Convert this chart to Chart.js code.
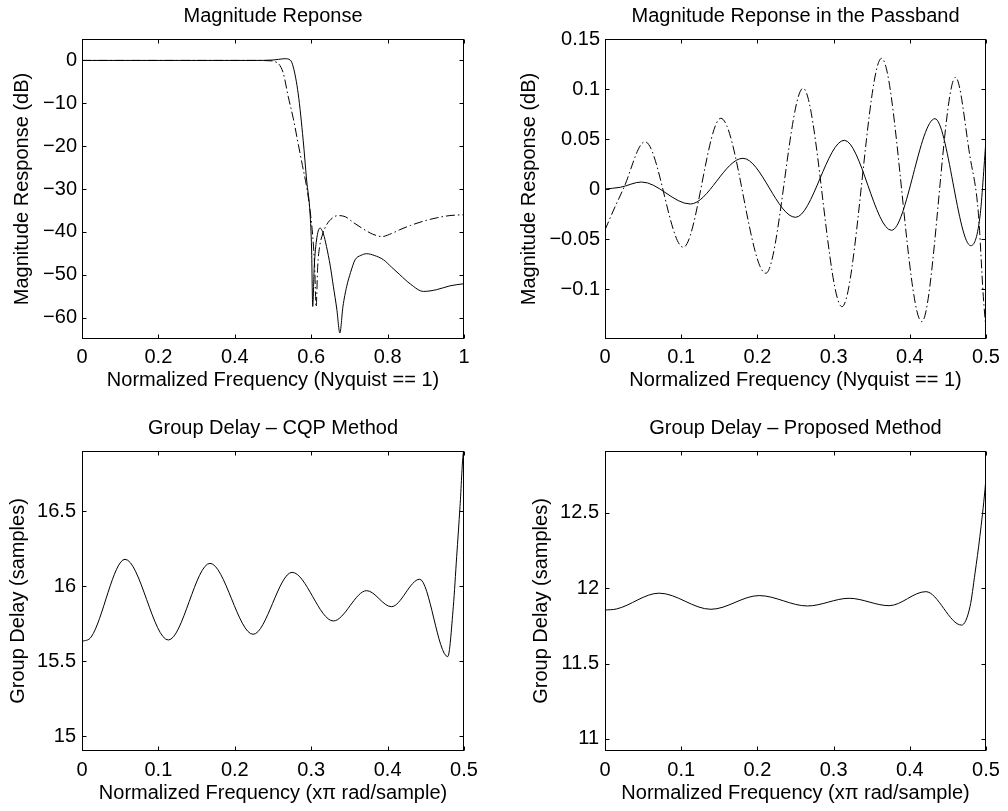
<!DOCTYPE html>
<html>
<head>
<meta charset="utf-8">
<script src="https://cdn.jsdelivr.net/npm/chart.js@4.4.1/dist/chart.umd.min.js"></script>
<style>
html,body{margin:0;padding:0;background:#fff;}
#fig{position:relative;width:1008px;height:811px;background:#fff;overflow:hidden;}
.cell{position:absolute;}
canvas{display:block;}
</style>
</head>
<body>
<div id="fig">
  <div class="cell" style="left:0;top:0;"><canvas id="c1" width="504" height="400"></canvas></div>
  <div class="cell" style="left:504px;top:0;"><canvas id="c2" width="504" height="400"></canvas></div>
  <div class="cell" style="left:0;top:400px;"><canvas id="c3" width="504" height="411"></canvas></div>
  <div class="cell" style="left:504px;top:400px;"><canvas id="c4" width="504" height="411"></canvas></div>
</div>
<script>
// ---------- Data ----------
// Magnitude response, full band (x: normalized frequency, y: dB)
const magSolidX = [0, 0.25, 0.45, 0.5, 0.515, 0.531, 0.545, 0.553, 0.566, 0.579, 0.588, 0.597, 0.601, 0.604, 0.608, 0.614, 0.623, 0.632, 0.640, 0.650, 0.658, 0.667, 0.675, 0.683, 0.693, 0.703, 0.715, 0.73, 0.745, 0.765, 0.789, 0.81, 0.832, 0.86, 0.894, 0.928, 0.963, 1.0];
const magSolidY = [0, 0, 0, 0.1, 0.25, 0.4, 0.1, -1.5, -7.8, -18.6, -27.9, -35.7, -44, -57.4, -48, -41.9, -39.1, -40.5, -43.4, -48, -52.7, -58, -63.6, -57.5, -52.7, -49.5, -46.5, -45.5, -45.1, -45.5, -46.5, -48.2, -50, -52.2, -53.9, -53.5, -52.6, -52.1];
const magDashX = [0, 0.25, 0.45, 0.495, 0.505, 0.515, 0.527, 0.54, 0.553, 0.565, 0.577, 0.588, 0.597, 0.604, 0.609, 0.613, 0.617, 0.622, 0.63, 0.64, 0.655, 0.67, 0.69, 0.71, 0.736, 0.76, 0.785, 0.81, 0.832, 0.86, 0.894, 0.93, 0.963, 1.0];
const magDashY = [0, 0, 0, -0.1, -0.3, -0.8, -3, -8.5, -13.5, -19, -24.5, -29.5, -35, -41, -48, -57.5, -48, -43.5, -40.5, -38.4, -36.8, -36.2, -36.5, -37.8, -39.3, -40.5, -41.1, -40.4, -39.5, -38.5, -37.5, -36.7, -36.2, -36];

// Magnitude response in the passband (ripple extrema)
const pbSolidX = [0, 0.02, 0.048, 0.112, 0.181, 0.25, 0.314, 0.376, 0.433, 0.48, 0.492, 0.5];
const pbSolidY = [0, 0.0017, 0.007, -0.015, 0.0307, -0.0283, 0.0487, -0.0413, 0.0703, -0.0567, -0.028, 0.049];
const pbDashX = [0, 0.0113, 0.024, 0.0525, 0.1027, 0.152, 0.211, 0.26, 0.311, 0.363, 0.4157, 0.46, 0.479, 0.49, 0.4965, 0.5];
const pbDashY = [-0.041, -0.021, 0, 0.0473, -0.0583, 0.0707, -0.0843, 0.1007, -0.1177, 0.1307, -0.1327, 0.1117, 0.0323, -0.0243, -0.1077, -0.141];

// Group delay - CQP method
const gdCqpX = [0, 0.012, 0.0563, 0.113, 0.1675, 0.224, 0.275, 0.329, 0.3726, 0.405, 0.442, 0.4787, 0.486, 0.4904, 0.4948, 0.499, 0.5];
const gdCqpY = [15.63, 15.66, 16.178, 15.64, 16.151, 15.678, 16.091, 15.767, 15.969, 15.862, 16.045, 15.529, 15.862, 16.195, 16.53, 16.885, 16.9];

// Group delay - proposed method
const gdPropX = [0, 0.015, 0.0712, 0.139, 0.2023, 0.2657, 0.3204, 0.3729, 0.421, 0.468, 0.479, 0.4856, 0.492, 0.4987, 0.5];
const gdPropY = [11.855, 11.862, 11.967, 11.86, 11.951, 11.882, 11.933, 11.884, 11.977, 11.755, 11.877, 12.1, 12.344, 12.655, 12.733];

// Ticks
const magXTicks = [0, 0.2, 0.4, 0.6, 0.8, 1];
const magXLabels = ['0', '0.2', '0.4', '0.6', '0.8', '1'];
const magYTicks = [-60, -50, -40, -30, -20, -10, 0];
const magYLabels = ['\u221260', '\u221250', '\u221240', '\u221230', '\u221220', '\u221210', '0'];
const halfXTicks = [0, 0.1, 0.2, 0.3, 0.4, 0.5];
const halfXLabels = ['0', '0.1', '0.2', '0.3', '0.4', '0.5'];
const pbYTicks = [-0.1, -0.05, 0, 0.05, 0.1, 0.15];
const pbYLabels = ['\u22120.1', '\u22120.05', '0', '0.05', '0.1', '0.15'];
const cqpYTicks = [15, 15.5, 16, 16.5];
const cqpYLabels = ['15', '15.5', '16', '16.5'];
const propYTicks = [11, 11.5, 12, 12.5];
const propYLabels = ['11', '11.5', '12', '12.5'];

// ---------- Rendering ----------
const FONT = "'Liberation Sans', Arial, Helvetica, sans-serif";
Chart.defaults.font.family = FONT;
Chart.defaults.font.size = 20;
Chart.defaults.color = '#000';

const framePlugin = {
  id: 'frame',
  afterDatasetsDraw(chart) {
    const {ctx, chartArea: a, scales: {x, y}} = chart;
    const L = Math.round(a.left) + 0.5, R = Math.round(a.right) - 0.5;
    const T = Math.round(a.top) + 0.5, B = Math.round(a.bottom) - 0.5;
    const tl = 4;
    ctx.save();
    ctx.strokeStyle = '#000';
    ctx.lineWidth = 1;
    ctx.beginPath();
    x.ticks.forEach(t => {
      const p = Math.round(x.getPixelForValue(t.value)) + 0.5;
      ctx.moveTo(p, B); ctx.lineTo(p, B - tl);
      ctx.moveTo(p, T); ctx.lineTo(p, T + tl);
    });
    y.ticks.forEach(t => {
      const p = Math.round(y.getPixelForValue(t.value)) + 0.5;
      ctx.moveTo(L, p); ctx.lineTo(L + tl, p);
      ctx.moveTo(R, p); ctx.lineTo(R - tl, p);
    });
    ctx.stroke();
    ctx.strokeRect(L, T, R - L, B - T);
    ctx.restore();
  }
};

function series(xs, ys, dashed) {
  return {
    data: xs.map((v, i) => ({x: v, y: ys[i]})),
    borderColor: '#000',
    borderWidth: 1,
    pointRadius: 0,
    fill: false,
    cubicInterpolationMode: 'monotone',
    borderDash: dashed ? [9, 3, 1.5, 3] : []
  };
}

function makeChart(id, o) {
  new Chart(document.getElementById(id), {
    type: 'line',
    data: {datasets: o.datasets},
    plugins: [framePlugin],
    options: {
      responsive: false,
      animation: false,
      events: [],
      layout: {padding: {left: 0, right: o.rightPad, top: 0, bottom: 0}},
      plugins: {
        legend: {display: false},
        tooltip: {enabled: false},
        title: {
          display: true, text: o.title, fullSize: false, color: '#000',
          font: {size: 20, weight: 'normal', family: FONT},
          padding: {top: o.titleTop, bottom: o.titleBottom}
        }
      },
      scales: {
        x: {
          type: 'linear', min: o.xMin, max: o.xMax,
          grid: {display: false, drawTicks: false},
          border: {display: false},
          afterBuildTicks: s => { s.ticks = o.xTicks.map(v => ({value: v})); },
          afterFit: s => { s.height = o.xAxisH; },
          ticks: {autoSkip: false, maxRotation: 0, minRotation: 0, padding: o.xTickPad, color: '#000',
                  font: {size: 20}, callback: (v, i) => o.xLabels[i]},
          title: {display: true, text: o.xTitle, color: '#000', font: {size: 20},
                  padding: {top: 0, bottom: o.xTitleBottom}}
        },
        y: {
          type: 'linear', min: o.yMin, max: o.yMax,
          grid: {display: false, drawTicks: false},
          border: {display: false},
          afterBuildTicks: s => { s.ticks = o.yTicks.map(v => ({value: v})); },
          afterFit: s => { s.width = o.yAxisW; },
          ticks: {autoSkip: false, padding: o.yTickPad, color: '#000',
                  font: {size: 20}, callback: (v, i) => o.yLabels[i]},
          title: {display: true, text: o.yTitle, color: '#000', font: {size: 20},
                  padding: {top: o.yTitleTop, bottom: 0}}
        }
      }
    }
  });
}

makeChart('c1', {
  title: 'Magnitude Reponse', titleTop: 4, titleBottom: 11,
  xTitle: 'Normalized Frequency (Nyquist == 1)', yTitle: 'Magnitude Response (dB)',
  xMin: 0, xMax: 1, yMin: -65, yMax: 5,
  xTicks: magXTicks, xLabels: magXLabels, yTicks: magYTicks, yLabels: magYLabels,
  rightPad: 40, yAxisW: 82, xAxisH: 61, xTickPad: 6, xTitleBottom: 8, yTickPad: 5, yTitleTop: 10,
  datasets: [series(magDashX, magDashY, true), series(magSolidX, magSolidY, false)]
});

makeChart('c2', {
  title: 'Magnitude Reponse in the Passband', titleTop: 4, titleBottom: 11,
  xTitle: 'Normalized Frequency (Nyquist == 1)', yTitle: 'Magnitude Response (dB)',
  xMin: 0, xMax: 0.5, yMin: -0.15, yMax: 0.15,
  xTicks: halfXTicks, xLabels: halfXLabels, yTicks: pbYTicks, yLabels: pbYLabels,
  rightPad: 22, yAxisW: 101, xAxisH: 61, xTickPad: 6, xTitleBottom: 8, yTickPad: 5, yTitleTop: 13,
  datasets: [series(pbDashX, pbDashY, true), series(pbSolidX, pbSolidY, false)]
});

makeChart('c3', {
  title: 'Group Delay \u2013 CQP Method', titleTop: 16, titleBottom: 11,
  xTitle: 'Normalized Frequency (x\u03c0 rad/sample)', yTitle: 'Group Delay (samples)',
  xMin: 0, xMax: 0.5, yMin: 14.9, yMax: 16.9,
  xTicks: halfXTicks, xLabels: halfXLabels, yTicks: cqpYTicks, yLabels: cqpYLabels,
  rightPad: 40, yAxisW: 82, xAxisH: 60, xTickPad: 7, xTitleBottom: 6, yTickPad: 6, yTitleTop: 6,
  datasets: [series(gdCqpX, gdCqpY, false)]
});

makeChart('c4', {
  title: 'Group Delay \u2013 Proposed Method', titleTop: 16, titleBottom: 11,
  xTitle: 'Normalized Frequency (x\u03c0 rad/sample)', yTitle: 'Group Delay (samples)',
  xMin: 0, xMax: 0.5, yMin: 10.92, yMax: 12.91,
  xTicks: halfXTicks, xLabels: halfXLabels, yTicks: propYTicks, yLabels: propYLabels,
  rightPad: 22, yAxisW: 101, xAxisH: 60, xTickPad: 7, xTitleBottom: 6, yTickPad: 6, yTitleTop: 25,
  datasets: [series(gdPropX, gdPropY, false)]
});
</script>
</body>
</html>
